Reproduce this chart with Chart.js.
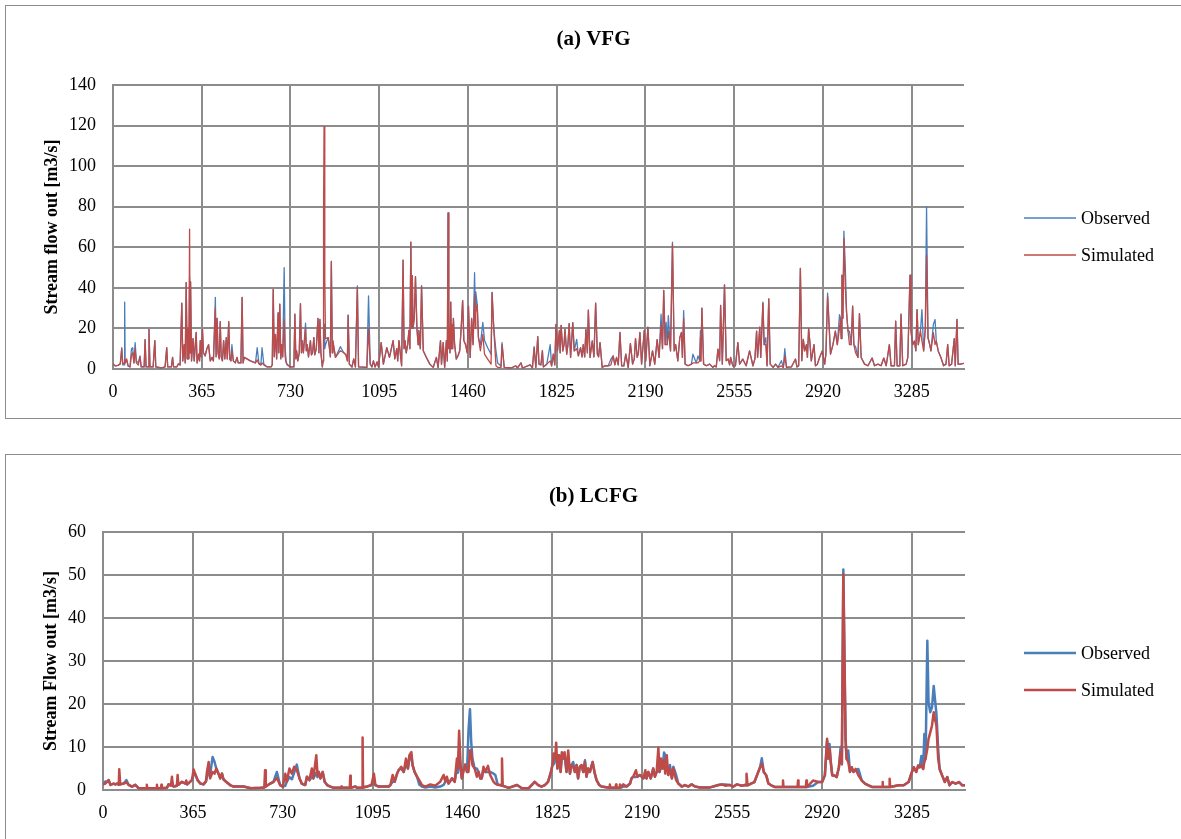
<!DOCTYPE html>
<html>
<head>
<meta charset="utf-8">
<script src="https://cdn.jsdelivr.net/npm/chart.js@4.4.1/dist/chart.umd.min.js"></script>
<style>
html,body{margin:0;padding:0;background:#fff;overflow:hidden;width:1181px;height:839px;}
.panel{position:absolute;left:5px;width:1190px;border:1px solid #8c8c8c;background:#fff;}
#p1{top:5px;height:412px;}
#p2{top:454px;height:400px;}
canvas{position:absolute;left:0;top:0;}
</style>
</head>
<body>
<div class="panel" id="p1"><canvas id="c1" width="1175" height="412"></canvas></div>
<div class="panel" id="p2"><canvas id="c2" width="1175" height="384"></canvas></div>
<script>
// ---------- shared axis data ----------
const xTickDays = [0,365,730,1095,1460,1825,2190,2555,2920,3285];
const xMaxDay = 3500;
const seriesNames = ['Observed','Simulated'];
const seriesColors = ['#4A7EBB','#BE4B48'];

// ---------- (a) VFG ----------
const vfgTitle = '(a) VFG';
const vfgYTitle = 'Stream flow out [m3/s]';
const vfgYTicks = [0,20,40,60,80,100,120,140];
const vfgDays = [
0,10,20,30,36,40,46,48,50,56,
62,70,76,81,86,91,96,104,111,116,
128,132,136,144,148,152,165,172,176,200,
214,221,225,240,245,249,262,269,276,283,
287,293,297,301,305,308,312,315,317,319,
323,329,334,342,346,352,356,359,363,368,
372,379,386,393,400,407,413,421,424,428,
432,437,441,445,450,455,460,466,470,476,
480,485,489,495,503,510,515,526,531,535,
540,551,565,586,593,600,608,613,620,634,
650,655,659,663,668,673,679,682,686,690,
694,698,704,708,712,716,730,744,748,752,
755,760,766,771,775,778,783,792,795,799,
804,808,812,816,821,826,830,836,843,847,
851,855,861,864,866,868,871,874,885,890,
894,898,902,904,915,935,949,958,964,967,
972,983,990,997,1005,1010,1044,1051,1058,1065,
1071,1078,1086,1092,1103,1112,1126,1137,1152,1159,
1167,1171,1176,1187,1193,1197,1201,1206,1212,1217,
1221,1225,1228,1231,1234,1239,1244,1250,1255,1258,
1264,1269,1276,1289,1303,1317,1330,1337,1347,1351,
1358,1364,1371,1375,1378,1381,1383,1386,1389,1392,
1394,1397,1400,1405,1412,1419,1426,1432,1438,1443,
1450,1457,1462,1469,1475,1481,1487,1490,1492,1498,
1503,1511,1521,1528,1541,1555,1559,1566,1575,1582,
1596,1600,1609,1637,1657,1664,1678,1684,1716,1725,
1732,1739,1747,1752,1760,1766,1770,1784,1798,1804,
1811,1817,1822,1828,1836,1839,1843,1850,1855,1859,
1866,1871,1876,1882,1891,1897,1907,1914,1923,1929,
1934,1940,1945,1951,1955,1962,1971,1978,1985,1992,
1997,2003,2012,2023,2037,2048,2057,2064,2071,2078,
2085,2092,2101,2109,2119,2128,2137,2144,2149,2156,
2161,2167,2174,2185,2191,2200,2208,2219,2228,2238,
2246,2254,2260,2265,2271,2275,2279,2284,2293,2301,
2308,2314,2323,2331,2338,2342,2347,2353,2365,2379,
2385,2399,2406,2413,2416,2418,2422,2429,2440,2454,
2467,2474,2481,2488,2495,2499,2506,2515,2522,2530,
2536,2540,2549,2560,2570,2577,2590,2604,2618,2632,
2640,2647,2651,2660,2664,2673,2678,2685,2690,2697,
2703,2715,2725,2735,2749,2757,2763,2770,2790,2807,
2813,2820,2827,2833,2839,2845,2852,2856,2861,2867,
2872,2883,2889,2897,2906,2917,2927,2932,2939,2945,
2951,2961,2971,2979,2988,2992,2995,2998,3002,3006,
3012,3017,3023,3029,3036,3042,3047,3054,3064,3070,
3077,3091,3105,3122,3132,3146,3159,3170,3180,3193,
3200,3214,3219,3225,3236,3241,3248,3262,3269,3278,
3282,3289,3296,3302,3307,3312,3321,3327,3334,3341,
3346,3352,3359,3364,3374,3381,3386,3394,3405,3416,
3426,3433,3439,3449,3460,3464,3471,3476,3484,3500
];
const vfgObserved = [
2.5,1.5,1.8,2.5,10.5,2,2,33,3,4.5,
1.5,1,10,10.5,3,13,4,3,6.5,1,
1,14.5,1,1,19.5,1,1,14,1,0.5,
1,10.5,1,1,5.7,1,1,2.5,2,32.5,
4,12,3,42.6,5,20,5,45,8,43,
4,15,4,18,3,7.3,4,14,6,19.5,
8,6.5,10,12,4,5.7,4,35.3,6,25,
8,5,23.3,6,4,14,5,15.5,5,23.3,
5,4,12,4,3,5.7,3,3,35.3,3,
5.7,5,4,3,10.5,3,2,10.5,2.5,1,
1,2,39.3,6,17,5,27.6,8,32,5,
12,6,50,10,4,2,1,1,27,5,
9,4,8,32.2,8,14,8,22.6,9,12,
6,10,14,7,8,15.5,7,10,25,8,
24.4,8,1,4,20,22,10,12,15.5,10.5,
6,53,8,14,5.7,11,8,7,4,26.5,
2.4,1,5,1,41,1,0.8,36,2.4,1,
4,1,3.5,1,13,2.4,10.5,5.7,14,5,
10,4,14,1.6,53.7,10,14,8,12,19,
10,62.5,20,46,20,25,45.5,20,12,19,
10,41,9,5.7,2.4,0.8,5.7,0.8,14,2.4,
13,0.8,14,4,77,10,20,8,33,10,
22,10,25,12,4.9,6.5,9,20,33.7,14,
12,8,31,5.7,25,12,47.5,30,38,31.7,
15.5,12,23,14,10.5,7.3,37.7,20,8.9,3,
1.5,13,0.8,0.5,1.5,0.5,3,0.5,2,0.5,
11,0.8,16,2.4,2,9,1,2.4,12,1.5,
7.3,2,22,8.9,19,8,21.5,8.9,12,19.5,
7.3,12,22.4,5.7,22.8,8.9,14.6,6.5,10.5,6,
12,6,19.5,8,29,5.7,13.8,6,32.5,7.3,
6,13,0.8,1.6,1.6,4.9,6.5,2,5.7,2,
18,1.6,1.5,7.3,0.8,12.5,2.4,5,15,5.7,
8,18,2.4,19,4,20.6,1.6,8.9,2.4,14.5,
5.7,27,10,38.7,12,23,12,26.3,8.9,62.5,
8.9,12,4,15.4,18,5.7,28.8,2.4,1.6,2.4,
7.3,3,6.5,4,19,4,30,2.4,1.6,2.4,
0.8,1.6,1,9.8,4.1,31.4,2.4,41.5,4.1,4.9,
2,5.7,1.5,1.6,13,2.4,4.9,1.6,8.9,1.6,
5,18.7,5.7,20.6,5.7,33,12,15.5,1.6,34.6,
2.4,0.8,2.4,0.8,4.1,0.8,10,0.8,1,4.9,
1,1.6,49.6,4.1,14.6,8.9,12,5.7,20,12,
4,12,1.6,2.4,5.7,8.9,2.4,7.3,37.4,22,
7.3,12,18.7,12,26.8,25,15,46.3,25,68,
49.6,28,18.7,18.7,12,31,12,11,5.7,27.3,
5.7,2.4,1.6,5.4,1.6,2.4,1.6,5.4,1.6,12,
1.6,1.6,23.6,1.6,1.6,27,1.6,2.4,5.7,46.3,
18.7,12,13.8,9,29.3,12,18.7,29.3,8.9,20.3,
80,15.4,12,8.9,22,24.4,13.8,8.9,5.7,1.6,
2.4,12,1.6,2.4,15,1.6,24.4,2.4,2.4,2.8
];
const vfgSimulated = [
2.5,1.5,1.8,2.5,10,2.5,3,5,3,5,
1.5,1,7,8,3,10,3,2,6,1,
1,14.5,1,1,19.5,1,1,14,1,0.5,
1,10.5,1,1,5.7,1,1,2.5,2,32.5,
4,12,3,42.6,5,20,5,69,8,43,
4,15,4,18,3,7.3,4,14,6,19.5,
8,6.5,10,12,4,5.7,4,30,6,25,
8,5,23.3,6,4,14,5,15.5,5,23.3,
5,4,9,4,3,5.7,3,3,35.3,3,
5.7,5,4,3,4.5,2.5,2,3,2,1,
1,2,39.3,6,17,5,27.6,8,32,5,
12,6,24.4,6,3,2.4,1,1,27,5,
9,4,8,32.2,8,14,8,20,9,12,
6,10,14,7,8,15.5,7,10,25,8,
24.4,8,1,4,78,119.5,45,15,15.5,10.5,
6,53,8,14,5.7,9,8,7,4,26.5,
2.4,1,5,1,40,1,0.8,20,2.4,1,
4,1,3.5,1,13,2.4,10.5,5.7,14,5,
10,4,14,1.6,53.7,10,14,8,12,19,
10,62.5,20,46,20,25,45.5,20,12,19,
10,41,9,5.7,2.4,0.8,5.7,0.8,14,2.4,
13,0.8,14,4,77,10,20,8,33,10,
22,10,25,12,4.9,6.5,9,20,33.7,14,
12,8,31,5.7,25,12,36.6,20,28,31.7,
15.5,9,17,7.3,4.9,2.4,37.7,20,1.6,0.8,
0.8,12,0.8,0.5,1.5,0.5,3,0.5,2,0.5,
10.5,0.8,16,2.4,2,9,1,2.4,4,1.5,
7.3,2,22,8.9,19,8,21.5,8.9,12,19.5,
7.3,12,22.4,5.7,22.8,8.9,10,6.5,10.5,6,
12,6,19.5,8,29,5.7,13.8,6,32.5,7.3,
6,13,0.8,1.6,1.6,2,6.5,2,5.7,2,
18,1.6,1.5,7.3,0.8,12.5,2.4,5,15,5.7,
8,18,2.4,19,4,20.6,1.6,8.9,2.4,14.5,
5.7,22,10,38.7,12,12,12,18.7,8.9,61.5,
8.9,12,4,15.4,18,5.7,25,2.4,1.6,2.4,
3,3,3,4,15.4,4,30,2.4,1.6,2.4,
0.8,1.6,1,9.8,4.1,31.4,2.4,41.5,4.1,4.9,
2,5.7,1.5,1.6,13,2.4,4.9,1.6,8.9,1.6,
5,18.7,5.7,20.6,5.7,32.5,12,12,1.6,34.6,
2.4,0.8,2.4,0.8,1.5,0.8,6.5,0.8,1,4.9,
1,1.6,49.6,4.1,14.6,8.9,12,5.7,20,12,
4,12,1.6,2.4,5.7,8.9,2.4,7.3,35.8,22,
7.3,12,18.7,12,20,25,15,46.3,25,64.2,
40,28,18.7,12,12,31,12,8,5.7,27.3,
5.7,2.4,1.6,5.4,1.6,2.4,1.6,5.4,1.6,12,
1.6,1.6,23.6,1.6,1.6,27,1.6,2.4,5.7,46.3,
18.7,12,13.8,9,29.3,12,18.7,13.8,8.9,20.3,
56,15.4,12,8.9,17.9,12,13.8,8.9,5.7,1.6,
2.4,12,1.6,2.4,15,1.6,24.4,2.4,2.4,2.8
];

// ---------- (b) LCFG ----------
const lcfgTitle = '(b) LCFG';
const lcfgYTitle = 'Stream Flow out [m3/s]';
const lcfgYTicks = [0,10,20,30,40,50,60];
const lcfgDays = [
0,3,10,16,23,30,43,50,57,64,
66,70,84,95,104,118,131,145,176,178,
180,217,219,221,235,237,239,260,266,276,
280,283,287,300,303,306,320,335,338,342,
361,368,374,384,395,408,418,422,429,435,
445,453,460,469,476,483,489,500,516,530,
571,600,640,655,658,661,679,692,706,719,
730,740,746,757,767,776,787,798,807,821,
828,838,848,854,866,871,876,883,892,900,
910,923,937,966,968,970,1002,1004,1006,1025,
1031,1052,1054,1056,1072,1090,1100,1106,1119,1160,
1167,1176,1184,1194,1200,1211,1221,1230,1238,1244,
1252,1257,1265,1275,1284,1295,1309,1329,1349,1369,
1383,1390,1396,1403,1417,1428,1437,1441,1446,1452,
1457,1464,1471,1478,1484,1490,1495,1500,1509,1518,
1525,1532,1538,1545,1552,1563,1572,1586,1593,1603,
1613,1618,1620,1623,1633,1647,1681,1701,1728,1753,
1767,1780,1794,1807,1817,1825,1830,1836,1840,1845,
1852,1858,1863,1868,1874,1882,1889,1896,1902,1909,
1916,1923,1929,1936,1943,1950,1957,1963,1970,1977,
1988,1997,2004,2015,2024,2056,2058,2060,2081,2083,
2085,2097,2099,2101,2112,2126,2140,2146,2153,2164,
2170,2180,2194,2202,2207,2214,2224,2234,2241,2248,
2255,2260,2266,2272,2278,2283,2289,2295,2302,2310,
2316,2327,2336,2350,2363,2377,2390,2404,2424,2465,
2499,2513,2526,2546,2560,2574,2594,2607,2611,2613,
2617,2631,2645,2658,2668,2675,2683,2693,2702,2713,
2727,2759,2761,2763,2820,2822,2824,2854,2856,2858,
2883,2904,2920,2931,2940,2945,2950,2955,2961,2969,
2979,2988,2995,3000,3006,3011,3015,3019,3026,3033,
3040,3047,3056,3067,3081,3094,3108,3122,3163,3165,
3167,3192,3194,3196,3231,3251,3271,3282,3292,3302,
3310,3316,3323,3330,3335,3340,3347,3352,3359,3366,
3373,3378,3384,3391,3397,3407,3418,3428,3437,3448,
3462,3476,3489,3500
];
const lcfgObserved = [
1.3,1.3,2,1.9,2.3,1.2,1.5,1.3,1.5,1.2,
1.5,1.3,1.5,2.3,1.2,0.8,1.2,0.4,0.4,0.4,
0.4,0.4,0.4,0.4,0.4,0.4,0.4,0.5,1.3,1,
2,1.2,0.8,1,2,1.2,1.9,1.5,1.5,1.3,
2.3,3.5,3.8,2.3,1.5,1.3,2,3,4,3.5,
7.7,6.5,5,3.8,2.7,3.8,2.5,1.9,1.15,0.8,
0.8,0.4,0.5,0.6,1,0.8,1.5,1.9,4.2,1.15,
0.8,1,1.9,3,2.5,4,5.9,2.7,1.5,1.15,
3.1,2.3,3,2.7,4,3,4.2,2.7,4.2,1.9,
1.15,0.8,0.5,0.5,0.5,0.5,0.5,0.5,0.5,0.8,
0.5,0.5,0.6,0.6,0.8,1.15,1.5,1.15,0.8,0.8,
1.15,1.9,1.9,3.8,4.6,5,4.2,6,5,7,
8.1,5.8,4.2,3.1,1.3,0.8,0.6,0.8,0.6,0.8,
1.2,1.9,2.7,1.5,2.7,1.9,5,4,9,5,
2.7,4.6,5.9,4.2,13.8,18.8,11.2,7.3,5,5,
4.2,2.7,2.7,5,4.2,4.2,4.2,3.8,3.5,1.2,
1.15,1,1,1,0.8,0.5,1.15,0.4,0.4,1.9,
1.15,0.8,1.15,1.9,3.8,5.8,6,7.3,8,5,
8.1,4.2,7.5,7.3,8.1,4.2,7.3,3.8,5.8,6.5,
4.2,5.8,2.7,5.4,5.8,4.2,6.9,3.1,5,4.2,
6.5,3.8,2.3,1.15,0.8,0.5,0.5,0.5,0.5,0.5,
0.5,0.5,0.5,0.5,0.8,0.8,1.5,2.7,3.1,3,
3.1,3.5,2.7,3.3,2.7,4.2,2.7,5,3.1,4.2,
4.5,4.2,5.5,5,8.7,8.1,6,3.5,5.8,2.7,
5.4,3.5,1.5,0.8,1.15,0.8,1.3,0.8,0.6,0.6,
1.15,1.3,1.3,1.15,0.8,1.3,1,1.15,1.1,1.1,
1.1,1.5,1.85,3.8,5.3,7.4,4.2,3.4,1.5,1.1,
0.7,0.7,0.7,0.7,0.7,0.7,0.7,0.7,0.7,0.7,
1,1.85,1.85,3.4,11.5,7.3,10.7,6.5,3.4,3.4,
3,5.3,10,6,51.3,29.7,11.9,7.3,9.2,4.2,
5.3,4.2,4.6,4.9,2.2,1.5,1.1,0.7,0.7,0.7,
0.7,0.7,0.7,0.7,1.1,1.1,1.85,3.8,5.3,4.2,
5.7,5.3,7.9,4.9,13,7.3,34.7,20.4,18.1,19.2,
24.2,21.2,17.7,9.6,4.9,3.4,1.85,3,1.1,1.85,
1.5,1.85,1.1,1.1
];
const lcfgSimulated = [
1.3,1.3,1.5,1.9,2.3,1.2,1.5,1.3,1.5,1.2,
4.8,1.3,1.5,1.8,1.2,0.8,1.2,0.4,0.4,1.2,
0.4,0.4,1.2,0.4,0.4,1.2,0.4,0.5,1.3,1,
3.1,1.2,0.8,1,3.5,1.2,1.9,1.5,2.2,1.3,
2.3,4.8,3.8,2.3,1.5,1.3,2,4.2,6.5,2.7,
4.2,3.8,5,3.8,2.7,3.8,2.5,1.9,1.15,0.8,
0.8,0.4,0.5,0.6,4.6,0.8,1.5,1.9,2.8,1.15,
0.8,3.8,1.9,5,3.8,5.4,4.6,2.7,1.5,1.15,
3.1,2.3,5,2.7,8.1,3.5,4.2,2.7,4.2,1.9,
1.15,0.8,0.5,0.5,0.8,0.5,0.5,3.3,0.5,0.8,
0.5,0.5,12.2,0.6,0.8,1.15,3.8,1.15,0.8,0.8,
1.15,3.5,1.9,3.8,4.6,5.4,4.2,7.3,5,8.1,
8.8,5.8,4.2,3.1,2.3,1.15,0.8,1.3,1,1.9,
3.5,1.9,3.1,1.5,2.7,1.9,7.3,5,13.8,5.8,
2.7,4.6,5.9,4.2,4.2,9.2,9.2,5.8,5,3.1,
4.2,2.7,2.7,5.4,4.2,5.6,3.5,1.9,1.5,1.2,
1.15,1,7.3,1,0.8,0.5,1.15,0.4,0.4,1.9,
1.15,0.8,1.15,1.9,3.8,5.8,8.5,7.3,11,5,
8.1,4.2,8.8,7.3,8.8,4.2,9.2,3.8,5.8,5.4,
4.2,5.8,2.7,5.4,5.8,4.2,6.5,3.1,5,4.2,
6.5,3.8,2.3,1.15,0.8,0.5,1.3,0.5,0.5,1.3,
0.5,0.5,1.3,0.5,1.3,0.8,1.5,2.7,3.1,4.6,
3.1,3.5,2.7,4.6,2.7,4.2,2.7,5,3.1,4.2,
9.8,4.2,7.3,5,6.9,3.8,8.1,3.5,5,2.7,
5,2.3,1.5,0.8,1.15,0.8,1.3,0.8,0.6,0.6,
1.15,1.3,1,1.15,0.8,1.3,1,1.15,1.1,3.8,
1.1,1.5,1.85,3.8,5.3,6.1,4.2,3.4,1.5,1.1,
0.7,0.7,2.2,0.7,0.7,2.2,0.7,0.7,2.2,0.7,
2.2,1.85,1.85,3.4,11.9,7.3,9.6,6.5,3.4,3.4,
3,5.3,8.8,6,50.1,28.9,11.9,7.3,6.5,4.2,
5.3,4.2,4.9,3.4,2.2,1.5,1.1,0.7,0.7,1.85,
0.7,0.7,2.6,0.7,1.1,1.1,1.85,3.8,5.3,4.2,
5.7,5.3,5.7,4.9,6.5,7.3,9.6,11.9,13.4,15,
18.1,16.5,15,7.3,4.9,3.4,1.85,3,1.1,1.85,
1.5,1.85,1.1,1.1
];

// ---------- chart construction ----------
Chart.defaults.font.family = '"Liberation Serif", "Times New Roman", serif';
Chart.defaults.color = '#000';

const GRID = '#8c8c8c';

const sideLegend = {
  id: 'sideLegend',
  afterDraw(chart, args, o) {
    const ctx = chart.ctx;
    ctx.save();
    chart.data.datasets.forEach((ds, i) => {
      const y = o.y + i * o.gap;
      ctx.strokeStyle = ds.borderColor;
      ctx.lineWidth = o.lineWidth;
      ctx.beginPath();
      ctx.moveTo(o.x, y);
      ctx.lineTo(o.x + o.len, y);
      ctx.stroke();
      ctx.fillStyle = '#000';
      ctx.font = '18px "Liberation Serif"';
      ctx.textAlign = 'left';
      ctx.textBaseline = 'middle';
      ctx.fillText(ds.label, o.x + o.len + 5, y + 1);
    });
    ctx.restore();
  }
};

function toPoints(days, vals) {
  return days.map((d, i) => ({ x: d, y: vals[i] }));
}

function makePanel(id, p) {
  const canvas = document.getElementById(id);
  const W = canvas.width, H = canvas.height;
  return new Chart(canvas, {
    type: 'line',
    data: {
      datasets: [
        { label: seriesNames[0], data: toPoints(p.days, p.obs), borderColor: seriesColors[0],
          backgroundColor: seriesColors[0], borderWidth: p.lw, pointRadius: 0, tension: 0,
          borderJoinStyle: 'round', order: 1 },
        { label: seriesNames[1], data: toPoints(p.days, p.sim), borderColor: seriesColors[1],
          backgroundColor: seriesColors[1], borderWidth: p.lw, pointRadius: 0, tension: 0,
          borderJoinStyle: 'round', order: 0 }
      ]
    },
    options: {
      responsive: false,
      animation: false,
      events: [],
      layout: { padding: 0 },
      plugins: {
        legend: { display: false },
        tooltip: { enabled: false },
        title: {
          display: true, text: p.title,
          font: { size: 21, weight: 'bold', lineHeight: 1 },
          padding: { top: p.titleTop, bottom: p.top - p.titleTop - 21 },
          color: '#000'
        },
        sideLegend: { x: 1018, y: p.legendY, gap: 37, len: 52, lineWidth: p.legendLw }
      },
      scales: {
        x: {
          type: 'linear', min: 0, max: xMaxDay,
          afterBuildTicks: (s) => { s.ticks = xTickDays.map(v => ({ value: v })); },
          afterFit: (s) => { s.height = H - p.bottom; },
          ticks: { callback: (v) => String(v), font: { size: 18 }, padding: 12, maxRotation: 0, autoSkip: false },
          grid: { color: GRID, lineWidth: 2, drawTicks: false },
          border: { display: true, color: GRID, width: 2 }
        },
        y: {
          min: 0, max: p.yTicks[p.yTicks.length - 1],
          afterBuildTicks: (s) => { s.ticks = p.yTicks.map(v => ({ value: v })); },
          afterFit: (s) => { s.width = p.left; },
          ticks: { font: { size: 18 }, padding: 17 },
          grid: { color: GRID, lineWidth: 2, drawTicks: false },
          border: { display: true, color: GRID, width: 2 },
          title: { display: true, text: p.yTitle, font: { size: 18, weight: 'bold' },
                   padding: { top: p.yTitlePad, bottom: 0 }, color: '#000' }
        },
        // empty right-hand band that holds the legend area
        legendBand: {
          type: 'linear', position: 'right', min: 0, max: 1,
          afterFit: (s) => { s.width = W - p.right; },
          ticks: { display: false },
          grid: { display: false, drawTicks: false },
          border: { display: false }
        }
      }
    },
    plugins: [sideLegend]
  });
}

makePanel('c1', {
  days: vfgDays, obs: vfgObserved, sim: vfgSimulated, yTicks: vfgYTicks,
  title: vfgTitle, yTitle: vfgYTitle,
  left: 107, right: 958, top: 79, bottom: 363, titleTop: 23.5, yTitlePad: 36,
  lw: 1.3, legendY: 212, legendLw: 1.3
});
makePanel('c2', {
  days: lcfgDays, obs: lcfgObserved, sim: lcfgSimulated, yTicks: lcfgYTicks,
  title: lcfgTitle, yTitle: lcfgYTitle,
  left: 97, right: 959, top: 77, bottom: 335, titleTop: 31.5, yTitlePad: 35,
  lw: 2.5, legendY: 198, legendLw: 2.5
});
</script>
</body>
</html>
